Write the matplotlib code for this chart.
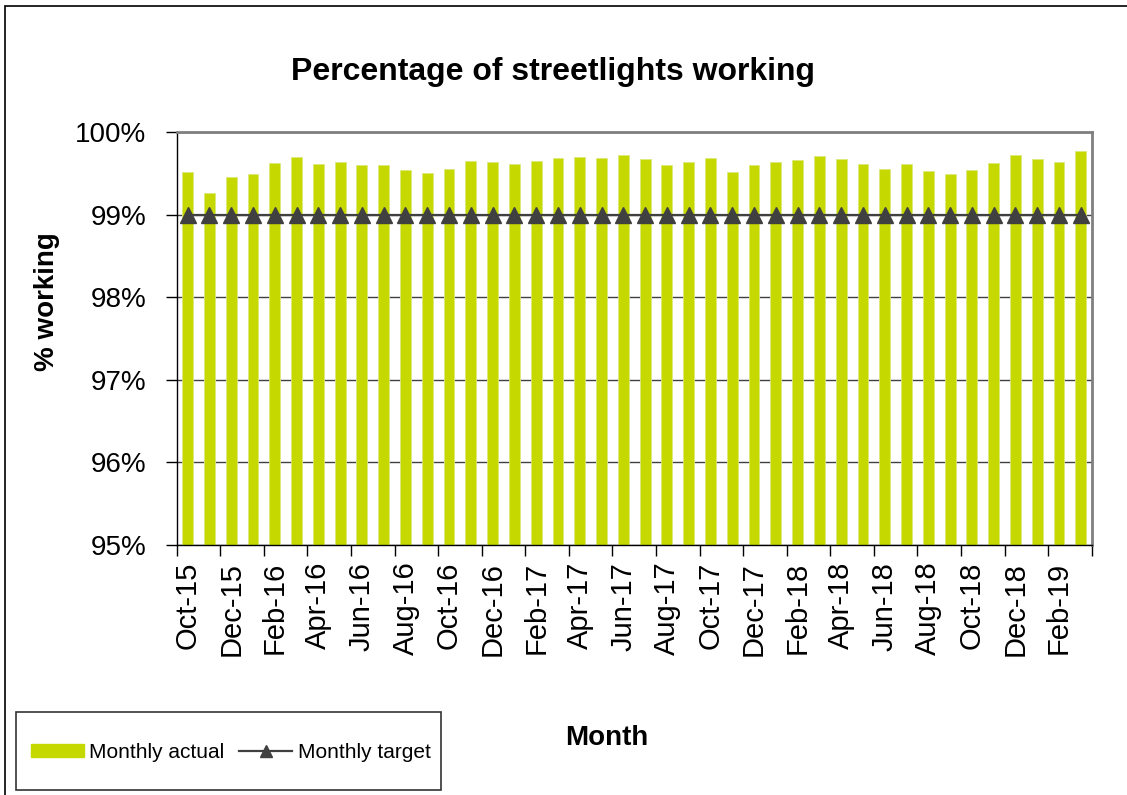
import matplotlib.pyplot as plt
import matplotlib.patches as mpatches
from matplotlib.lines import Line2D

plt.rcParams['font.family'] = ['Liberation Sans', 'DejaVu Sans']

# months Oct-15 .. Mar-19
months = ['Oct-15', 'Nov-15', 'Dec-15',
          'Jan-16', 'Feb-16', 'Mar-16', 'Apr-16', 'May-16', 'Jun-16',
          'Jul-16', 'Aug-16', 'Sep-16', 'Oct-16', 'Nov-16', 'Dec-16',
          'Jan-17', 'Feb-17', 'Mar-17', 'Apr-17', 'May-17', 'Jun-17',
          'Jul-17', 'Aug-17', 'Sep-17', 'Oct-17', 'Nov-17', 'Dec-17',
          'Jan-18', 'Feb-18', 'Mar-18', 'Apr-18', 'May-18', 'Jun-18',
          'Jul-18', 'Aug-18', 'Sep-18', 'Oct-18', 'Nov-18', 'Dec-18',
          'Jan-19', 'Feb-19', 'Mar-19']

actual = [99.52, 99.27, 99.46, 99.50, 99.63, 99.70, 99.61, 99.64, 99.60,
          99.60, 99.54, 99.51, 99.55, 99.65, 99.64, 99.61, 99.65, 99.69,
          99.70, 99.69, 99.72, 99.68, 99.60, 99.64, 99.69, 99.52, 99.60,
          99.64, 99.67, 99.71, 99.68, 99.61, 99.55, 99.61, 99.53, 99.50,
          99.54, 99.63, 99.72, 99.68, 99.64, 99.77]

target = [99.0] * len(months)

W, H = 1127, 795
fig = plt.figure(figsize=(W / 100, H / 100), dpi=100)

# outer chart border (cut off on right and bottom)
fig.patches.append(mpatches.Rectangle((5 / W, -0.01), 1.05, 1 - 6 / H + 0.01,
                                      transform=fig.transFigure, fill=False,
                                      edgecolor='black', linewidth=1.2))

ax = fig.add_axes([176.7 / W, (H - 545) / H, (1091.7 - 176.7) / W, (545 - 132.3) / H])

x = list(range(len(months)))
ax.bar(x, actual, width=0.5, bottom=0, color='#c5d900',
       edgecolor='#dce879', linewidth=0.6, zorder=2)
ax.plot(x, target, color='#404040', linewidth=1.6, marker='^',
        markersize=12, zorder=3)

ax.set_ylim(95, 100)
ax.set_xlim(-0.5, len(months) - 0.5)
ax.set_yticks([95, 96, 97, 98, 99, 100])
ax.set_yticklabels([f'{v}%' for v in range(95, 101)])
ax.yaxis.grid(True, color='#404040', linewidth=1.0, zorder=0)
ax.set_axisbelow(True)

# ticks at category boundaries, labels centred on every second month
ax.set_xticks([i - 0.5 for i in range(0, len(months) + 1, 2)])
ax.set_xticklabels([])
ax.set_xticks(list(range(0, len(months), 2)), minor=True)
ax.set_xticklabels(months[::2], minor=True, rotation=90, fontsize=21)
ax.tick_params(axis='x', which='minor', length=0, pad=12)
ax.tick_params(axis='x', which='major', length=8, width=1, direction='out')
ax.tick_params(axis='y', length=8, width=1, direction='out', labelsize=20, pad=14)

for s in ['top', 'right']:
    ax.spines[s].set_color('#808080')
    ax.spines[s].set_linewidth(2)
for s in ['left', 'bottom']:
    ax.spines[s].set_color('black')
    ax.spines[s].set_linewidth(1)

fig.text(553 / W, 1 - 72 / H, 'Percentage of streetlights working',
         ha='center', va='center', fontsize=23, fontweight='bold')
fig.text(47 / W, 1 - 302 / H, '% working', ha='center', va='center',
         rotation=90, fontsize=20, fontweight='bold')
fig.text(607 / W, 1 - 738 / H, 'Month', ha='center', va='center',
         fontsize=20, fontweight='bold')

# legend box at the bottom left
fig.patches.append(mpatches.Rectangle((16 / W, 5 / H), 425 / W, 78 / H,
                                      transform=fig.transFigure, fill=True,
                                      facecolor='white', edgecolor='#333333',
                                      linewidth=1.2))
handles = [mpatches.Patch(color='#c5d900'),
           Line2D([], [], color='#404040', linewidth=1.6, marker='^', markersize=8)]
fig.legend(handles, ['Monthly actual', 'Monthly target'], ncol=2,
           loc='center left', bbox_to_anchor=(31 / W, 43 / H),
           frameon=False, fontsize=15, borderpad=0, borderaxespad=0,
           handlelength=2.55, handleheight=0.6, handletextpad=0.25,
           columnspacing=0.7)

fig.savefig('out.png', dpi=100)
